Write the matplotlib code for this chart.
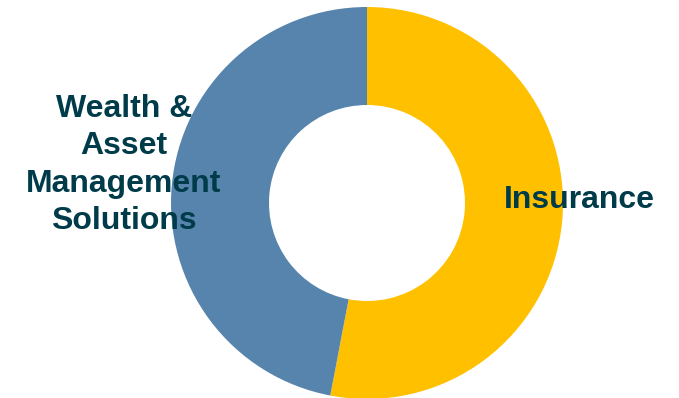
import matplotlib
matplotlib.use("Agg")
import matplotlib.pyplot as plt

categories = ["Insurance", "Wealth &\nAsset\nManagement\nSolutions"]
values = [53, 47]
colors = ["#FFC000", "#5784AD"]

W, H = 679, 398
fig = plt.figure(figsize=(W / 100, H / 100), dpi=100)
cx, cy, r = 367, 203, 196
ax = fig.add_axes([(cx - r) / W, (H - cy - r) / H, 2 * r / W, 2 * r / H])
ax.pie(values, colors=colors, startangle=90, counterclock=False,
       radius=1.0, wedgeprops=dict(width=0.5, edgecolor="none"))
ax.set_xlim(-1, 1)
ax.set_ylim(-1, 1)
ax.set_aspect("equal")
ax.axis("off")

txt_kw = dict(fontfamily="Liberation Sans", fontweight="bold", fontsize=23,
              color="#003B4A", ha="center", va="center", multialignment="center")
fig.text(579 / W, 1 - 200 / H, categories[0], **txt_kw)
fig.text(124 / W, 1 - 165 / H, categories[1], linespacing=1.32, **txt_kw)

fig.savefig("out.png", dpi=100)
